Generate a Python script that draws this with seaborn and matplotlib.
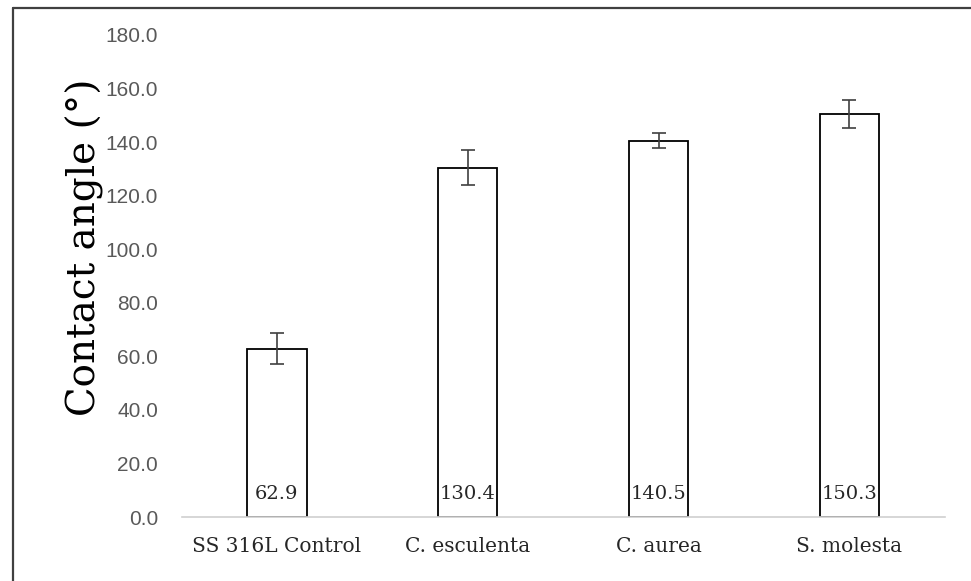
import matplotlib
matplotlib.use('Agg')
import matplotlib.pyplot as plt
import seaborn as sns
import pandas as pd
from matplotlib.lines import Line2D

# ── DATA ─────────────────────────────────────────────────────────────────────
SAMPLES = ["SS 316L Control", "C. esculenta", "C. aurea", "S. molesta"]
MEAN_ANGLE = [62.9, 130.4, 140.5, 150.3]
ERR_ANGLE = [5.7, 6.5, 2.7, 5.2]
Y_TICKS = [0, 20, 40, 60, 80, 100, 120, 140, 160, 180]

df = pd.DataFrame({"sample": SAMPLES, "angle": MEAN_ANGLE})

sns.set_style("white")
plt.rcParams['font.family'] = ['DejaVu Serif']

fig = plt.figure(figsize=(9.71, 5.81), dpi=100)
ax = fig.add_axes([0.187, 0.110, 0.786, 0.830])

sns.barplot(data=df, x="sample", y="angle", errorbar=None, width=0.31,
            color="white", edgecolor="black", linewidth=1.3, ax=ax)
ax.errorbar(range(len(SAMPLES)), MEAN_ANGLE, yerr=ERR_ANGLE, fmt='none',
            ecolor="#404040", elinewidth=1.2, capsize=5, capthick=1.2)

# value labels sit inside the bar, near the base
for i, v in enumerate(MEAN_ANGLE):
    ax.annotate(f"{v:.1f}", xy=(i, 0), xytext=(0, 13),
                textcoords='offset points', ha='center', va='baseline',
                fontsize=14, color="#262626", family='DejaVu Serif')

ax.set_xlim(-0.5, 3.5)
ax.set_ylim(0, 180)
ax.set_yticks(Y_TICKS)
ax.set_yticklabels([f"{t:.1f}" for t in Y_TICKS], family='Liberation Sans',
                   fontsize=15, color="#595959")
ax.tick_params(axis='y', length=0, pad=17)
ax.tick_params(axis='x', length=0, pad=14, labelsize=14.5, labelcolor="#262626")

ax.set_xlabel("")
ax.set_ylabel("Contact angle (°)", fontsize=28, family='DejaVu Serif',
              color="black")
ax.yaxis.set_label_coords(-0.102, 0.56)

for s in ["top", "right", "left"]:
    ax.spines[s].set_visible(False)
ax.spines["bottom"].set_color("#d0d0d0")
ax.spines["bottom"].set_linewidth(1.2)

# outer frame: only the left and top edges are visible in the figure
fx = 13 / 971
fy = 1 - 8 / 581
fig.add_artist(Line2D([fx, fx], [0, fy], transform=fig.transFigure,
                      color="#404040", linewidth=1.6))
fig.add_artist(Line2D([fx, 1], [fy, fy], transform=fig.transFigure,
                      color="#404040", linewidth=1.6))

fig.savefig("out.png", dpi=100)
plt.close(fig)
